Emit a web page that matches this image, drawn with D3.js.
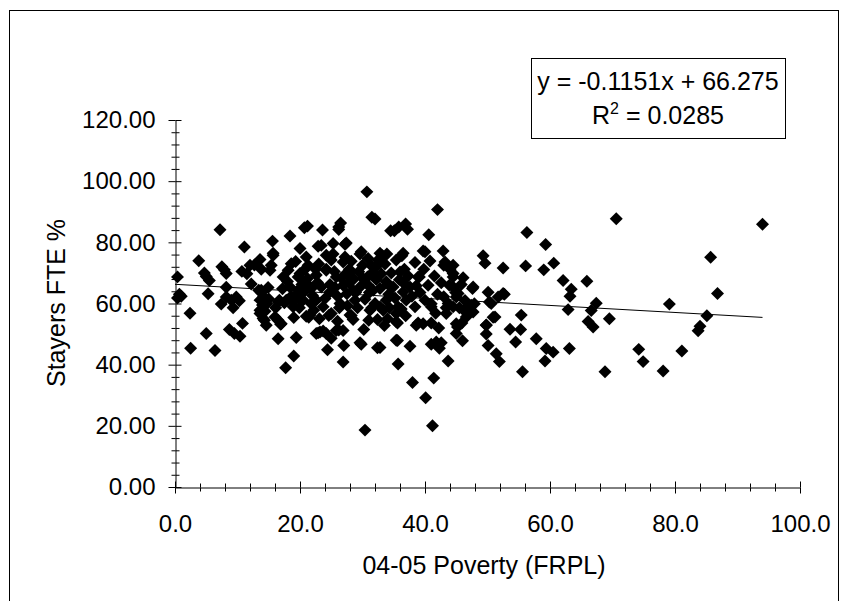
<!DOCTYPE html>
<html>
<head>
<meta charset="utf-8">
<script src="https://cdn.jsdelivr.net/npm/d3@7"></script>
<style>
  html, body { margin: 0; padding: 0; background: #fff; }
  svg text { font-family: "Liberation Sans", Arial, sans-serif; fill: #000; }
</style>
</head>
<body>
<div id="chart"></div>
<script>
// ticks
const xTicks = [0, 20, 40, 60, 80, 100];
const yTicks = [0, 20, 40, 60, 80, 100, 120];
const minorStep = 4;

// trendline as printed in the chart
const trendCoef = [-0.1151, 66.275];
const trendText = ['y = -0.1151x + 66.275', '0.0285'];

// [FRPL %, stayers FTE %]
const points = [
  [0.4,68.7],[0.7,63],[1.0,62.4],[0.4,61.8],[2.4,56.8],[2.5,45.4],[3.8,74],[4.7,70],[5.0,68.8],[5.5,67.5],
  [5.3,63.2],[5.0,50.2],[6.4,44.6],[7.2,84.1],[7.5,72.0],[7.9,71.0],[8.2,69.8],[7.4,59.8],[8.2,65.3],[8.2,62.1],
  [8.7,51.5],[9.0,61.1],[9.3,58.6],[9.8,62.1],[9.5,50.2],[10.4,49.3],[10.3,60.9],[10.8,53.5],[11.1,78.5],[10.7,70.5],
  [11.5,69.7],[12.0,72.5],[12.2,66.4],[12.7,72.6],
  [13.6,74.4],[13.8,71.2],[13.4,64.3],[13.8,64.3],[13.8,63.6],[13.6,61.1],[14.0,59.5],[13.6,57.8],[13.6,56.7],[14.1,55.1],
  [14.3,54.5],[14.6,52.9],[14.7,59.9],[15.6,80.4],[15.2,70.9],[15.7,75.8],[15.4,72.5],[15.7,76.4],[16.0,55.6],[16.5,54.5],
  [16.5,48.5],[16.9,53.2],[16.1,58.6],[16.5,60.5],[16.7,61.1],[17.7,39.0],[17.3,68.7],[17.0,53.4],[17.5,60.2],[17.8,61.1],
  [18.4,82.1],[18.1,70.9],[18.6,62.4],[19.0,42.8],[18.6,73.0],[19.3,73.7],[19.4,48.9],[18.4,65.4],[18.9,58.9],[18.9,60.5],
  [19.7,68.7],[19.7,64.3],[20.0,78.0],[19.9,58.6],[20.3,66.2],[20.5,63.6],[20.2,61.0],[20.5,61.1],
  [14.2,62.2],[14.4,57.5],[15.0,61.5],[14.9,65.2],[17.2,64.8],[18.0,67.2],[19.2,62.3],[20.0,69.8],[19.0,55.4],
  [20.7,84.8],[21.2,85.3],[21.0,75.2],[21.3,72.5],[21.4,55.5],[21.6,65.5],[21.8,59.9],[21.0,55.8],[20.8,66.5],[21.8,64.9],
  [21.6,56.2],[22.5,71.2],[22.6,69.3],[22.6,61.1],[22.6,50.2],[22.9,50.4],[22.9,78.7],[23.4,79.0],[23.6,84.0],[23.7,51.0],
  [23.7,58.9],[23.4,65.4],[23.2,50.7],[24.2,71.2],[24.2,75.8],[24.2,70.9],[24.4,44.9],[24.6,56.1],[24.2,50.2],[25.0,48.6],
  [24.8,66.2],[24.8,63.8],[25.0,74.2],[25.0,56.7],[25.3,76.2],[25.3,79.6],[25.8,68.7],[25.8,51.2],[26.2,84.2],[26.2,85.0],
  [26.5,86.3],[26.3,58.6],[26.4,60.0],[26.2,51.3],[26.9,73.6],[26.9,66.0],[26.9,51.2],[26.9,40.9],[27.0,46.3],[27.2,79.4],
  [27.4,79.8],[27.4,69.9],[27.9,71.2],[28.0,70.3],[28.0,56.2],[28.2,56.1],[28.5,54.8],[28.5,64.3],[28.8,61.1],[28.9,63.6],
  [29.6,76.2],[29.6,65.4],[29.6,47.2],[29.8,46.7],[29.8,76.9],[30.0,72.5],
  [21.2,68.2],[22.0,62.6],[22.8,66.9],[23.0,72.9],[20.8,71.2],[22.2,57.8],[23.1,55.0],[24.0,61.6],[25.5,70.5],[26.0,62.4],
  [26.6,68.3],[27.5,63.2],[27.8,66.8],[28.6,68.0],[29.2,58.6],[29.4,70.4],[25.6,65.2],[27.2,75.2],[28.2,73.8],[26.0,54.2],
  [27.6,59.3],
  [30.1,68.2],[30.4,18.6],[30.7,96.5],[30.8,68.7],[30.9,74.7],[31.1,63.6],[31.2,57.8],[31.5,88.2],[32.0,87.6],[31.5,58.6],
  [31.7,70.3],[31.7,64.3],[32.0,60.0],[32.4,45.5],[32.8,45.6],[32.4,72.5],[32.4,54.8],[32.5,74.2],[32.8,76.4],[32.8,64.9],
  [32.8,58.9],[33.2,75.6],[33.3,57.8],[33.8,67.1],[33.8,61.1],[33.9,76.2],[34.1,66.2],[34.3,58.6],[34.5,83.8],[34.9,65.4],
  [35.1,83.8],[35.4,74.2],[35.4,56.7],[35.4,54.0],[35.4,48.0],[35.6,47.9],[35.8,85.0],[35.7,58.9],[35.7,40.2],[35.6,53.6],
  [36.0,70.3],[36.3,75.6],[36.5,66.8],[36.5,63.8],[36.5,76.4],[36.9,86.0],[37.2,84.3],[36.7,71.2],[37.0,61.1],[37.6,46.0],
  [37.6,65.4],[38.0,34.2],[38.4,73.4],[38.4,58.9],[38.6,52.9],[38.9,53.6],[38.9,68.7],[39.1,68.7],[39.7,53.4],[39.7,77.2],
  [39.8,71.2],[40.0,61.1],[40.0,76.9],
  [30.4,61.4],[30.9,66.0],[31.4,72.4],[32.2,67.8],[33.0,69.7],[33.6,72.9],[34.2,63.0],[34.6,70.0],[35.2,61.8],[35.9,67.8],
  [36.2,58.2],[37.3,69.0],[37.9,62.4],[38.6,65.8],[39.2,63.6],[36.9,56.0],[34.0,55.0],[33.5,52.8],[31.0,54.5],[30.2,51.5],
  [40.1,29.2],[40.6,82.5],[40.8,73.9],[41.0,59.9],[41.0,53.6],[41.0,58.9],[41.4,35.6],[41.2,20.0],[42.0,90.7],[41.0,46.7],
  [41.9,46.9],[42.3,45.4],[41.8,47.4],[42.6,47.2],[42.9,77.2],[42.6,66.8],[43.0,72.5],[43.2,73.6],[43.4,58.6],[43.4,56.7],
  [43.7,41.2],[43.7,60.0],[44.0,71.2],[44.5,68.7],[44.5,72.5],[44.5,69.8],[44.5,65.4],[44.5,58.9],[44.9,63.6],[45.0,53.4],
  [45.0,50.2],[45.0,62.1],[45.2,52.3],[45.3,63.3],[45.5,58.6],[45.9,53.6],[46.0,47.8],[46.1,68.4],[46.6,55.6],[46.9,56.7],
  [47.2,58.6],[47.6,64.9],[47.7,65.4],[47.4,59.4],[47.7,57.2],[47.9,59.9],[49.3,75.6],[49.6,73.2],[49.8,53.0],[49.8,50.0],
  [49.8,52.9],
  [40.5,66.0],[41.5,69.0],[42.0,63.0],[41.7,56.8],[43.0,62.2],[42.2,52.0],[43.9,66.0],[46.4,61.0],[45.8,66.2],[46.2,57.8],
  [50.1,63.7],[50.1,46.3],[50.3,60.5],[50.6,60.0],[50.9,55.5],[51.2,55.6],[51.4,43.6],[51.9,41.0],[51.7,62.1],[52.5,71.6],
  [52.7,63.0],[52.5,63.3],[53.6,51.6],[54.5,47.4],[55.3,51.5],[55.4,56.2],[55.6,37.7],[56.1,72.3],[56.3,83.2],[57.8,48.5],
  [59.0,71.0],[59.3,79.3],[59.2,41.2],[59.4,45.3],[60.5,44.1],[60.6,73.2],[62.1,67.5],[62.9,58.0],[63.1,45.3],[63.2,62.4],
  [63.4,64.7],[65.9,67.3],[66.1,54.1],[66.6,57.7],[66.9,52.3],[67.4,60.1],[68.8,37.7],[69.5,55.0],[70.6,87.7],[74.2,45.0],
  [74.9,41.0],[78.1,37.9],[79.1,59.8],[81.1,44.5],[83.7,51.1],[84.0,52.6],[85.1,56.0],[85.7,75.1],[86.8,63.3],[94.0,85.9]
];

const width = 846;
const height = 601;

const svg = d3.select('#chart').append('svg')
  .attr('width', width)
  .attr('height', height);

// outer chart frame (bottom runs off the picture)
svg.append('rect')
  .attr('x', 9.5)
  .attr('y', 10.5)
  .attr('width', 829)
  .attr('height', 610)
  .attr('fill', '#fff')
  .attr('stroke', '#000');

const x = d3.scaleLinear().domain([0, 100]).range([175, 800]);
const y = d3.scaleLinear().domain([0, 120]).range([487, 120]);

const minorX = d3.range(0, 101, minorStep).filter(d => d % 20 !== 0);
const minorY = d3.range(0, 121, minorStep).filter(d => d % 20 !== 0);

function styleAxis(g) {
  g.attr('font-family', '"Liberation Sans", Arial, sans-serif')
    .attr('font-size', 24);
  g.selectAll('line').attr('stroke', '#000');
  g.selectAll('.domain').attr('stroke', '#000');
}

// y axis: ticks cross the axis line
const yAxisG = svg.append('g').attr('transform', 'translate(175.5,0)');
yAxisG.append('g')
  .call(d3.axisLeft(y).tickValues(yTicks).tickSize(7).tickSizeOuter(0).tickPadding(13)
    .tickFormat(d => d.toFixed(2)))
  .call(styleAxis);
yAxisG.append('g')
  .call(d3.axisRight(y).tickValues(yTicks).tickSize(6).tickFormat(''))
  .call(styleAxis)
  .call(g => g.select('.domain').remove());
yAxisG.append('g')
  .call(d3.axisLeft(y).tickValues(minorY).tickSize(4).tickFormat(''))
  .call(styleAxis)
  .call(g => g.select('.domain').remove());
yAxisG.append('g')
  .call(d3.axisRight(y).tickValues(minorY).tickSize(4).tickFormat(''))
  .call(styleAxis)
  .call(g => g.select('.domain').remove());

// x axis
const xAxisG = svg.append('g').attr('transform', 'translate(0,487.5)');
xAxisG.append('g')
  .call(d3.axisBottom(x).tickValues(xTicks).tickSize(6).tickSizeOuter(0).tickPadding(21)
    .tickFormat(d => d.toFixed(1)))
  .call(styleAxis);
xAxisG.append('g')
  .call(d3.axisTop(x).tickValues(xTicks).tickSize(6).tickFormat(''))
  .call(styleAxis)
  .call(g => g.select('.domain').remove());
xAxisG.append('g')
  .call(d3.axisBottom(x).tickValues(minorX).tickSize(4).tickFormat(''))
  .call(styleAxis)
  .call(g => g.select('.domain').remove());
xAxisG.append('g')
  .call(d3.axisTop(x).tickValues(minorX).tickSize(4).tickFormat(''))
  .call(styleAxis)
  .call(g => g.select('.domain').remove());

// axis titles
svg.append('text')
  .attr('x', 484)
  .attr('y', 574)
  .attr('text-anchor', 'middle')
  .attr('font-size', 25)
  .text('04-05 Poverty (FRPL)');

svg.append('text')
  .attr('transform', `translate(65, ${303}) rotate(-90)`)
  .attr('text-anchor', 'middle')
  .attr('font-size', 25)
  .text('Stayers FTE %');

// points
const diamond = d3.symbol().type(d3.symbolSquare).size(84);
svg.append('g')
  .selectAll('path')
  .data(points)
  .join('path')
  .attr('d', diamond)
  .attr('transform', d => `translate(${x(d[0])},${y(d[1])}) rotate(45)`)
  .attr('fill', '#000');

// linear trendline over the data range
const xExtent = d3.extent(points, d => d[0]);
svg.append('path')
  .datum([0, xExtent[1]])
  .attr('fill', 'none')
  .attr('stroke', '#000')
  .attr('stroke-width', 1)
  .attr('d', d3.line()
    .x(d => x(d))
    .y(d => y(trendCoef[0] * d + trendCoef[1])));

// equation box
const box = svg.append('g');
box.append('rect')
  .attr('x', 531.5)
  .attr('y', 58.5)
  .attr('width', 254)
  .attr('height', 80)
  .attr('fill', '#fff')
  .attr('stroke', '#000');
box.append('text')
  .attr('x', 658)
  .attr('y', 90)
  .attr('text-anchor', 'middle')
  .attr('font-size', 25)
  .text(trendText[0]);
const r2 = box.append('text')
  .attr('x', 658)
  .attr('y', 124)
  .attr('text-anchor', 'middle')
  .attr('font-size', 25);
r2.append('tspan').text('R');
r2.append('tspan').attr('font-size', 16).attr('dy', -10).text('2');
r2.append('tspan').attr('dy', 10).text(' = ' + trendText[1]);
</script>
</body>
</html>
